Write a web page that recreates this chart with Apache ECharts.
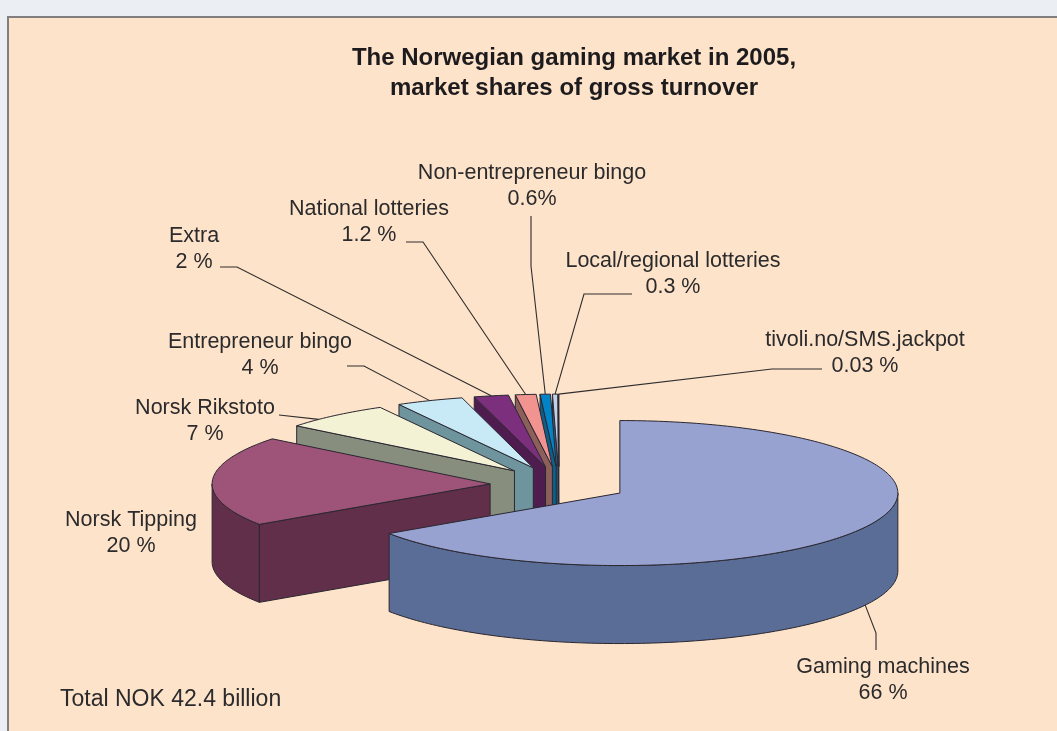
<!DOCTYPE html>
<html>
<head>
<meta charset="utf-8">
<style>html,body{margin:0;padding:0;background:#ebeff3}#c{width:1057px;height:731px}</style>
<script src="https://cdn.jsdelivr.net/npm/echarts@6/dist/echarts.min.js"></script>
</head>
<body>
<div id="c"></div>
<script>
const sliceNames = ['Gaming machines','Norsk Tipping','Norsk Rikstoto','Entrepreneur bingo','Extra','National lotteries','Non-entrepreneur bingo','Local/regional lotteries','tivoli.no/SMS.jackpot'];
const shareValues = [65.6, 20.1, 6.3, 3.9, 2, 1.2, 0.6, 0.3, 0.03];
const shareLabels = ['66 %','20 %','7 %','4 %','2 %','1.2 %','0.6%','0.3 %','0.03 %'];
const titleLines = ['The Norwegian gaming market in 2005,','market shares of gross turnover'];
const totalNote = 'Total NOK 42.4 billion';

// Styles
const topColours  = ['#98a2d0','#9e5478','#f3f2d5','#c8e9f6','#7b2f7d','#f19490','#0382c5','#c4cfe9','#3a3f55'];
const wallColours = ['#5a6d96','#622f4a','#888e7e','#6e949e','#4e1c4e','#8c5f5a','#0d5f8a','#2d5d85','#2a2a33'];
const edge = '#2a2730', ink = '#2b2a2c';

// Layout
const pie = {cx: 559, cy: 484.6, rx: 278, ry: 72.5, depth: 78, explode: 0.248};
const labelCentres = [[883,680],[131,533],[205,421],[260,355],[194,249],[369,222],[532,186],[673,274],[865,353]];
const leaderElbows = [
  [[876,650],[876,633]],
  null,
  [[279,415]],
  [[347,366],[364,366]],
  [[220,267],[237,267]],
  [[406,242],[423,242]],
  [[531,216],[531,266]],
  [[632,294],[584,294]],
  [[822,369],[772,369]]
];
const leaderAnchorFrac = [0.5,0.5,0.3,0.5,0.5,0.5,0.5,0.5,0.5];

const total = shareValues.reduce((a,b)=>a+b,0);
const TAU = Math.PI*2;
const starts = []; let run = 0;
shareValues.forEach(v=>{starts.push(run/total*TAU); run += v;});

function pt(c, a, h){ return [c[0]+pie.rx*Math.sin(a), c[1]-pie.ry*Math.cos(a)+(h||0)]; }
function arcPts(c, a0, a1, h){
  const n = Math.max(2, Math.ceil((a1-a0)/0.02)), out = [];
  for(let i=0;i<=n;i++) out.push(pt(c, a0+(a1-a0)*i/n, h));
  return out;
}
function sliceGeom(i){
  const a0 = starts[i], a1 = a0+shareValues[i]/total*TAU, m = (a0+a1)/2;
  const c = [pie.cx+pie.explode*pie.rx*Math.sin(m), pie.cy-pie.explode*pie.ry*Math.cos(m)];
  return {a0,a1,m,c};
}
function poly(points, fill){
  return {type:'polygon', shape:{points}, style:{fill, stroke:edge, lineWidth:1, lineJoin:'round'}};
}
function renderSlice(params, api){
  const i = api.value(1), g = sliceGeom(i), c = g.c, d = pie.depth, children = [];
  const wall = wallColours[i];
  // Outer side: only the front half of the rim can be seen
  const v0 = Math.max(g.a0, Math.PI/2), v1 = Math.min(g.a1, Math.PI*1.5);
  if(v1>v0){
    children.push(poly(arcPts(c,v0,v1,0).concat(arcPts(c,v0,v1,d).reverse()), wall));
  }
  // Cut face at the slice's start: faces the viewer only on the left half
  if(Math.sin(g.a0) < -1e-6){
    const sP = pt(c,g.a0);
    children.push(poly([c,sP,[sP[0],sP[1]+d],[c[0],c[1]+d]], wall));
  }
  // Top face
  children.push(poly([c].concat(arcPts(c,g.a0,g.a1,0)), topColours[i]));
  return {type:'group', children};
}
function renderLabel(params, api){
  const i = api.value(1), g = sliceGeom(i), children = [];
  const elbows = leaderElbows[i];
  if(elbows){
    const a = g.a0+(g.a1-g.a0)*leaderAnchorFrac[i];
    const h = Math.cos(a)<0 ? pie.depth : 0;
    children.push({type:'polyline', shape:{points:elbows.concat([pt(g.c,a,h)])}, style:{fill:null, stroke:'#2f2d2f', lineWidth:1.1}});
  }
  children.push({type:'text', x:labelCentres[i][0], y:labelCentres[i][1], style:{
    text:sliceNames[i]+'\n'+shareLabels[i], fill:ink, font:'21.5px "Liberation Sans"', lineHeight:26,
    align:'center', verticalAlign:'middle'}});
  return {type:'group', children};
}

const order = shareValues.map((v,i)=>[v,i]);
const chart = echarts.init(document.getElementById('c'), null, {renderer:'canvas'});
chart.setOption({
  animation:false,
  backgroundColor:'#ebeff3',
  graphic:[
    {type:'rect', z:-10, shape:{x:8,y:17,width:1100,height:760}, style:{fill:'#fde3c9',stroke:'#807e7e',lineWidth:2}},
    {type:'text', z:5, x:60, y:700, style:{text:totalNote, fill:ink, font:'23px "Liberation Sans"', align:'left', verticalAlign:'middle'}},
    {type:'text', z:5, x:574, y:73, style:{text:titleLines.join('\n'), fill:'#1d1b1d', font:'bold 24px "Liberation Sans"', lineHeight:30, align:'center', verticalAlign:'middle'}}
  ],
  series:[
    {type:'custom', coordinateSystem:'none', silent:true, z:2, renderItem:renderSlice, data:order.slice().reverse()},
    {type:'custom', coordinateSystem:'none', silent:true, z:3, renderItem:renderLabel, data:order}
  ]
});
</script>
</body>
</html>
